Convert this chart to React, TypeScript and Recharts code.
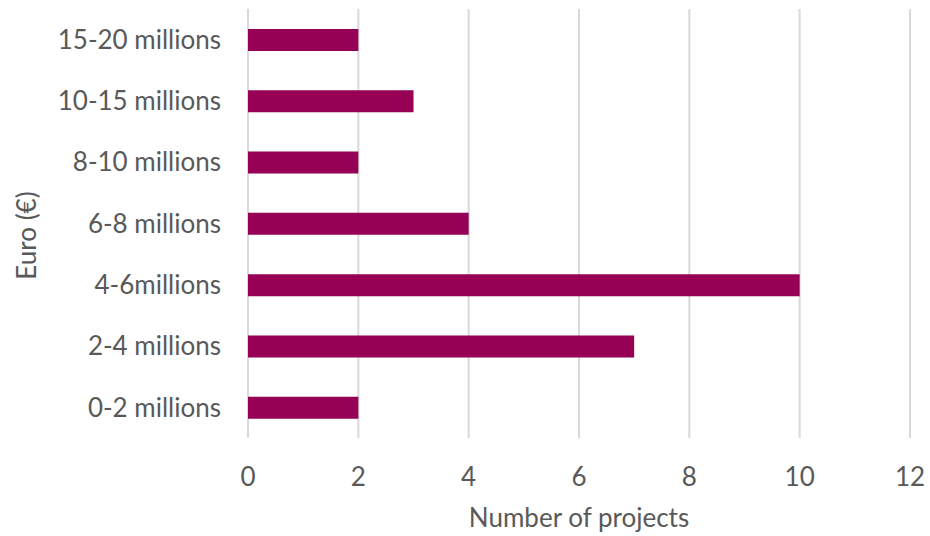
import { BarChart, Bar, XAxis, YAxis, CartesianGrid, Label } from 'recharts';

const categories = ['0-2 millions', '2-4 millions', '4-6millions', '6-8 millions', '8-10 millions', '10-15 millions', '15-20 millions'];
const projects = [2, 7, 10, 4, 2, 3, 2];
const xTicks = [0, 2, 4, 6, 8, 10, 12];

const data = categories.map((c, i) => ({ category: c, projects: projects[i] }));

const FONT = 'Lato, "Open Sans", sans-serif';
const TEXT = '#595959';

export default function App() {
  return (
    <div style={{ position: 'absolute', left: 0, top: 0, background: '#fff' }}>
      <BarChart
        width={930}
        height={536}
        data={data}
        layout="vertical"
        margin={{ top: 9, right: 20, bottom: 0, left: 0 }}
      >
        <CartesianGrid horizontal={false} stroke="#d9d9d9" strokeWidth={2} />
        <XAxis
          type="number"
          domain={[0, 12]}
          ticks={xTicks}
          axisLine={false}
          tickLine={false}
          tickSize={0}
          tickMargin={30}
          height={98}
          tick={{ fill: TEXT, fontSize: 26, fontFamily: FONT }}
        >
          <Label
            value="Number of projects"
            position="insideBottom"
            offset={9}
            fill={TEXT}
            fontSize={26}
            fontFamily={FONT}
          />
        </XAxis>
        <YAxis
          type="category"
          dataKey="category"
          reversed
          width={248}
          axisLine={false}
          tickLine={false}
          tickSize={0}
          tickMargin={27}
          interval={0}
          tick={{ fill: TEXT, fontSize: 26, fontFamily: FONT }}
        >
          <Label
            content={({ viewBox }: any) => {
              const x = viewBox.x + 26;
              const y = viewBox.y + viewBox.height / 2 + 12;
              return (
                <text
                  x={x}
                  y={y}
                  transform={`rotate(-90 ${x} ${y})`}
                  textAnchor="middle"
                  dominantBaseline="central"
                  fill={TEXT}
                  fontSize={26}
                  fontFamily={FONT}
                >
                  Euro (€)
                </text>
              );
            }}
          />
        </YAxis>
        <Bar dataKey="projects" fill="#960055" barSize={22} isAnimationActive={false} />
      </BarChart>
    </div>
  );
}
